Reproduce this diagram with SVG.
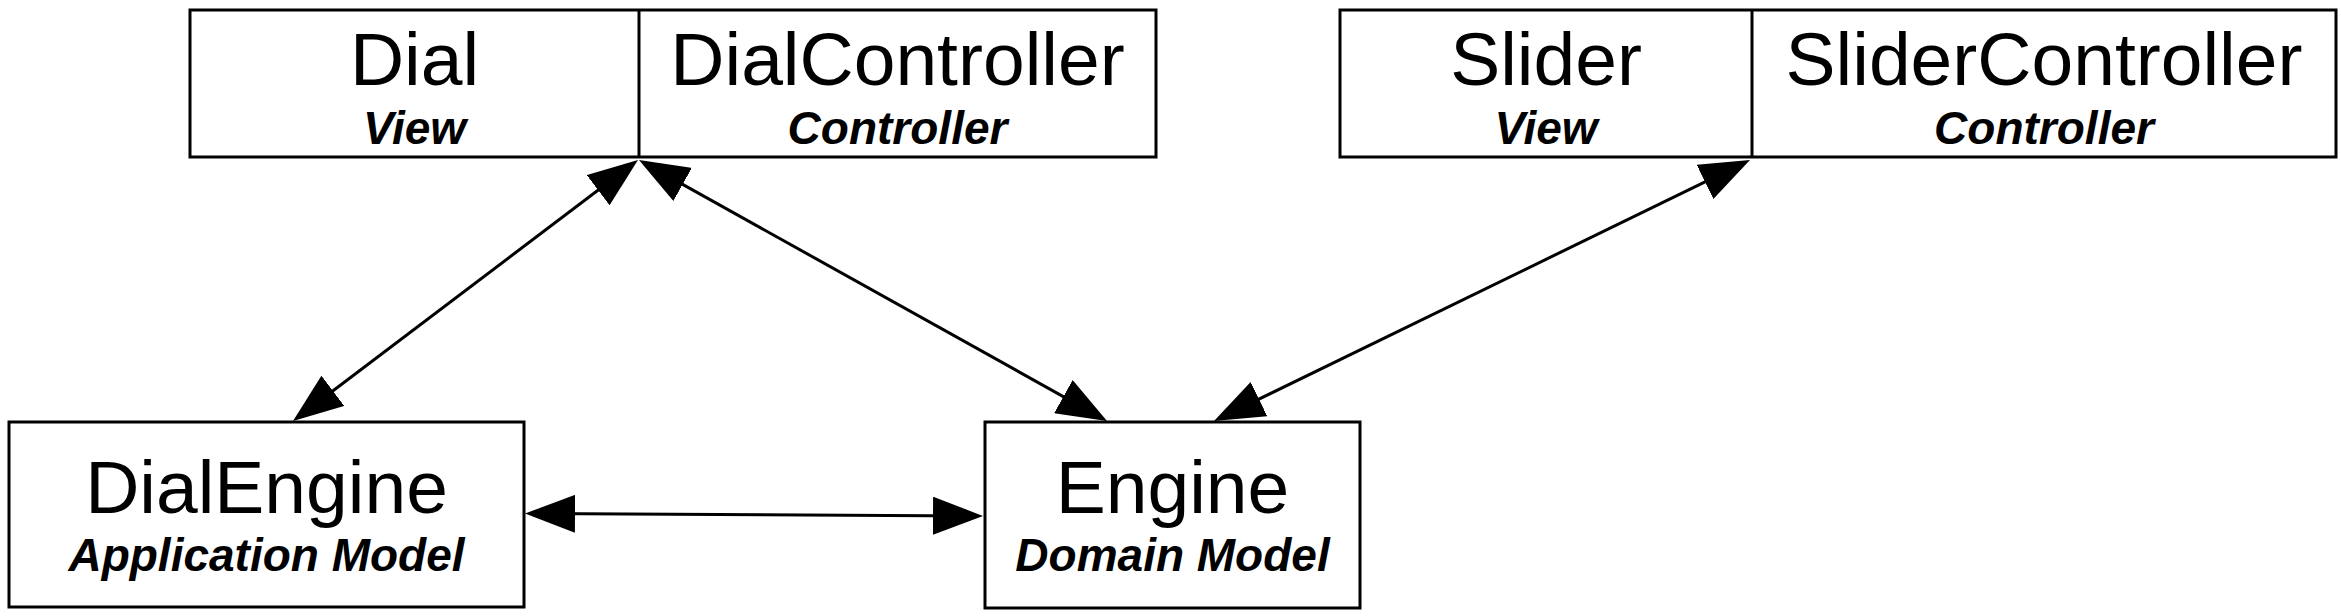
<svg xmlns="http://www.w3.org/2000/svg" width="2341" height="616" viewBox="0 0 2341 616">
<style>
  .box { fill: #ffffff; stroke: #000000; stroke-width: 3; }
  .div { stroke: #000000; stroke-width: 3; }
  .name { font-family: "Liberation Sans", Arial, sans-serif; font-size: 75px; fill: #000000; text-anchor: middle; }
  .role { font-family: "Liberation Sans", Arial, sans-serif; font-size: 46px; font-weight: bold; font-style: italic; fill: #000000; text-anchor: middle; }
  .conn { fill: none; stroke: #000000; stroke-width: 3; marker-start: url(#head); marker-end: url(#head); }
</style>
<defs>
  <marker id="head" viewBox="0 0 50 38" refX="40" refY="19" markerWidth="50" markerHeight="38" markerUnits="userSpaceOnUse" orient="auto-start-reverse">
    <path d="M0,0 L50,19 L0,38 z" fill="#000000"/>
  </marker>
</defs>
<rect width="2341" height="616" fill="#ffffff"/>
<g id="dial-mvc">
  <rect class="box" x="190" y="10" width="966" height="147"/>
  <line class="div" x1="639" y1="10" x2="639" y2="157"/>
  <g id="dial">
    <text class="name" x="414.5" y="85">Dial</text>
    <text class="role" x="414.5" y="144">View</text>
  </g>
  <g id="dialcontroller">
    <text class="name" x="897.5" y="85">DialController</text>
    <text class="role" x="897.5" y="144">Controller</text>
  </g>
</g>
<g id="slider-mvc">
  <rect class="box" x="1340" y="10" width="996" height="147"/>
  <line class="div" x1="1752" y1="10" x2="1752" y2="157"/>
  <g id="slider">
    <text class="name" x="1546" y="85">Slider</text>
    <text class="role" x="1546" y="144">View</text>
  </g>
  <g id="slidercontroller">
    <text class="name" x="2044" y="85">SliderController</text>
    <text class="role" x="2044" y="144">Controller</text>
  </g>
</g>
<g id="dialengine">
  <rect class="box" x="9" y="422" width="515" height="185"/>
  <text class="name" x="266.5" y="513">DialEngine</text>
  <text class="role" x="266.5" y="571">Application Model</text>
</g>
<g id="engine">
  <rect class="box" x="985" y="422" width="375" height="186"/>
  <text class="name" x="1172.5" y="513">Engine</text>
  <text class="role" x="1172.5" y="571">Domain Model</text>
</g>
<g id="connectors">
  <line class="conn" x1="630.0" y1="166.0" x2="301.0" y2="415.0"/>
  <line class="conn" x1="647.7" y1="164.9" x2="1098.3" y2="416.1"/>
  <line class="conn" x1="1741.0" y1="164.4" x2="1223.0" y2="416.6"/>
  <line class="conn" x1="535" y1="513.6" x2="973" y2="515.9"/>
</g>
</svg>
